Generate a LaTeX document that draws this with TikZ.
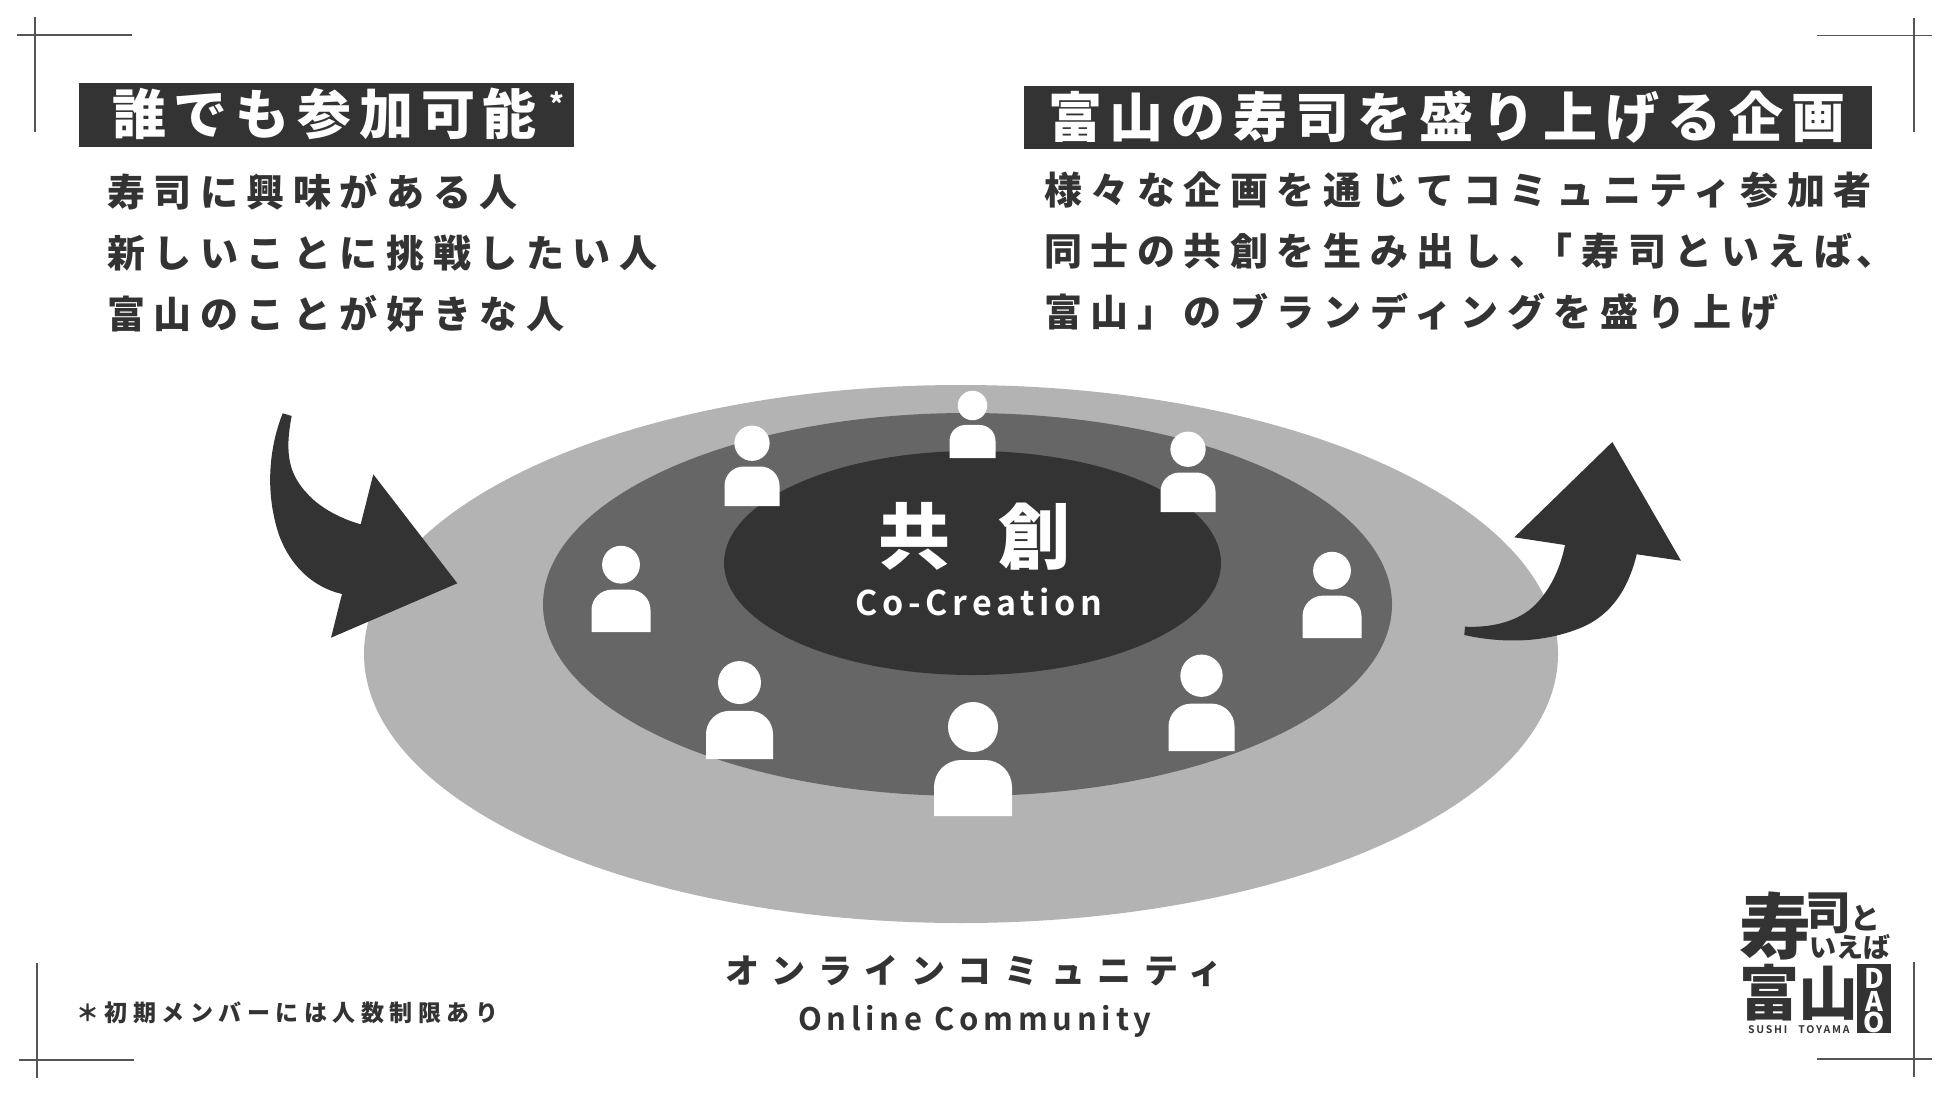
\documentclass[tikz,border=0pt]{standalone}
\usepackage{fontspec}
\newfontfamily\jpblack{Noto Sans CJK JP Black}
\newfontfamily\jpbold{Noto Sans CJK JP Bold}
\definecolor{dk}{HTML}{333333}
\definecolor{md}{HTML}{666666}
\definecolor{lt}{HTML}{B3B3B3}
\definecolor{crop}{HTML}{555555}
\newcommand\jfnt[2]{\fontsize{#1}{#1}\selectfont\addfontfeature{LetterSpace=#2}}
\tikzset{
  jt/.style 2 args={font={\jpblack\jfnt{#1}{#2}},anchor=base west,inner sep=0pt,outer sep=0pt,text=dk},
  jw/.style 2 args={font={\jpblack\jfnt{#1}{#2}},anchor=base west,inner sep=0pt,outer sep=0pt,text=white},
  lb/.style 2 args={font={\jpbold\jfnt{#1}{#2}},anchor=base west,inner sep=0pt,outer sep=0pt,text=dk},
  daoletter/.style={font={\jpblack\fontsize{27}{27}\selectfont},text=white,inner sep=0pt,anchor=base},
  cropline/.style={draw=crop,line width=1.5pt},
  arrowshape/.style={fill=dk,draw=none},
}
\newcommand\personicon[3]{%
  \pgfmathsetmacro\ps{#3/78}%
  \pgfmathsetmacro\pl{#1-#3/2}%
  \pgfmathsetmacro\pr{#1+#3/2}%
  \pgfmathsetmacro\pt{#2-56*\ps}%
  \pgfmathsetmacro\prad{27*\ps}%
  \pgfmathsetmacro\hy{#2-89*\ps}%
  \pgfmathsetmacro\hr{25*\ps}%
  \fill[white] (#1,\hy) circle[radius=\hr];
  \fill[white] (\pl,#2) [rounded corners=\prad pt] -- (\pl,\pt) -- (\pr,\pt) [sharp corners] -- (\pr,#2) -- cycle;
}
\begin{document}
\begin{tikzpicture}[x=1pt,y=-1pt]
\useasboundingbox (0,0) rectangle (1950,1097);
\fill[white] (0,0) rectangle (1950,1097);
% crop marks
\draw[cropline] (17,35) -- (132,35);
\draw[cropline] (35,17) -- (35,132);
\draw[cropline] (1817,35.5) -- (1932,35.5);
\draw[cropline] (1914,18) -- (1914,132);
\draw[cropline] (19,1060) -- (134,1060);
\draw[cropline] (37,963) -- (37,1078);
\draw[cropline] (1817,1059) -- (1932,1059);
\draw[cropline] (1914,962) -- (1914,1077);
% title boxes
\fill[dk] (79,83) rectangle (574,147);
\fill[dk] (1024,86) rectangle (1872,149);
\node[jw={54}{14.5}] (t1) at (112,135) {誰でも参加可能};
\node[jw={28}{0}] (t1s) at (549,114) {\smash{*}};
\node[jw={54}{14.7}] (t2) at (1048,138) {富山の寿司を盛り上げる企画};
% left body
\node[jt={38}{22.6}] (l1) at (107,206) {寿司に興味がある人};
\node[jt={38}{22.6}] (l2) at (107,267) {新しいことに挑戦したい人};
\node[jt={38}{22.6}] (l3) at (107,328) {富山のことが好きな人};
% right body
\node[jt={38}{22.6}] (r1) at (1044,204) {様々な企画を通じてコミュニティ参加者};
\node[jt={38}{22.6}] (r2) at (1044,265) {同士の共創を生み出し、\kern-13pt「寿司といえば};
\node[jt={38}{0}] (r2c) at (1856,265) {、};
\node[jt={38}{22.6}] (r3) at (1044,326) {富山」のブランディングを盛り上げ};
% ellipses
\fill[lt] (961,654) ellipse[x radius=597,y radius=269];
\fill[md] (967.5,604.5) ellipse[x radius=424.5,y radius=191.5];
\fill[dk] (972.5,563) ellipse[x radius=248.5,y radius=112];
% persons
\personicon{972.5}{458}{46}
\personicon{752}{506}{55}
\personicon{1188}{512}{55}
\personicon{621}{632}{59}
\personicon{1332}{638}{59}
\personicon{739.5}{759}{67}
\personicon{1201.5}{751}{66}
\personicon{973}{816}{78}
% centre text
\node[jw={72}{67}] (c1) at (878,563) {共創};
\node[font={\jpbold\jfnt{34}{14}},anchor=base west,inner sep=0pt,text=white] (c2) at (855,615) {Co-Creation};
% arrows
\fill[arrowshape] (282.7,413.3) .. controls (270,445) and (264,490) .. (279,535)
  .. controls (290,565) and (312,587) .. (342,594)
  -- (331,637.7) -- (457.3,583.3) -- (373.3,474.3) -- (360.7,524.3)
  .. controls (338,518) and (318,506) .. (306.7,493)
  .. controls (290,475) and (284,455) .. (291.7,416) -- cycle;
\fill[arrowshape] (1465,626.7) .. controls (1495,628) and (1520,620) .. (1535,605)
  .. controls (1552,588) and (1561,565) .. (1565,545)
  -- (1514.3,537.3) -- (1612.3,442) -- (1681,560.7) -- (1636.7,554.3)
  .. controls (1628,590) and (1610,618) .. (1575,630)
  .. controls (1540,643) and (1500,643) .. (1464.3,635) -- cycle;
% bottom labels
\node[jt={34}{37}] (o1) at (725,983) {オンラインコミュニティ};
\node[lb={31}{15.3}] (o2) at (798,1030) {Online Community};
\node[jt={23}{24}] (fn) at (76,1021) {＊初期メンバーには人数制限あり};
% logo
\node[jt={72}{0}] (lg1) at (1739,953) {\smash{寿}};
\node[jt={46}{0}] (lg2) at (1805,929) {\smash{司}};
\node[jt={30}{0}] (lg3) at (1850,929) {\smash{と}};
\node[jt={27}{0}] (lg4) at (1809,957) {\smash{いえば}};
\node[jt={60}{0}] (lg5) at (1739,1015) {\smash{富}};
\node[jt={60}{0}] (lg6) at (1798,1015) {\smash{山}};
\fill[dk] (1857,964) rectangle (1891,1033);
\node[daoletter] (d1) at (1874,988) {\smash{D}};
\node[daoletter] (d2) at (1874,1011) {\smash{A}};
\node[daoletter] (d3) at (1874,1032) {\smash{O}};
\node[lb={10.5}{17}] (lg7) at (1748,1033) {\smash{SUSHI\hspace{11pt}TOYAMA}};
\end{tikzpicture}
\end{document}
